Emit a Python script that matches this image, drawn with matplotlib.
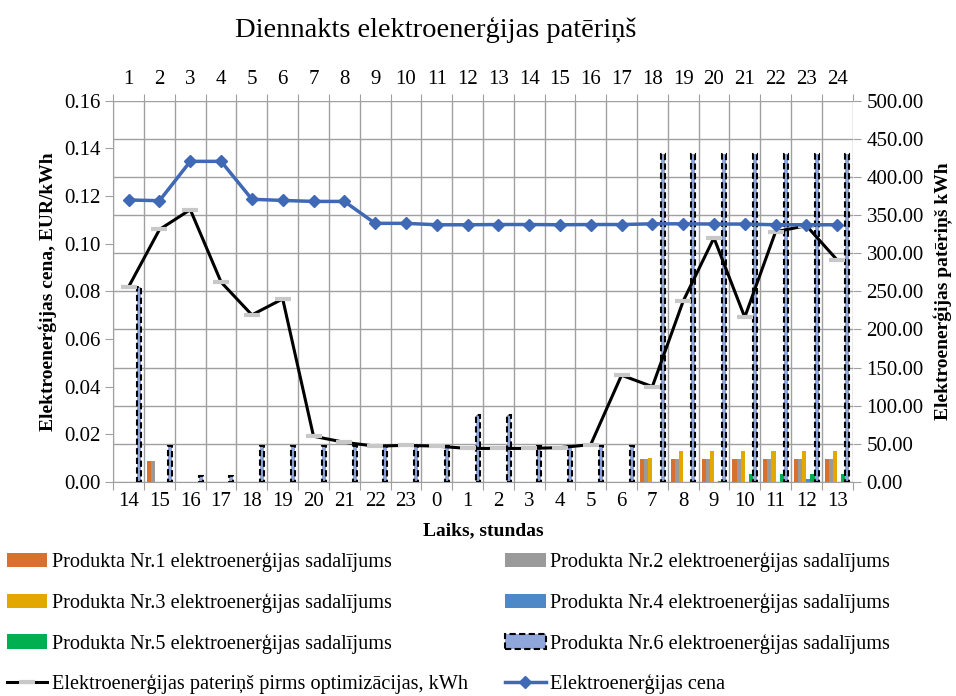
import numpy as np
import matplotlib
matplotlib.use("Agg")
import matplotlib.pyplot as plt
from matplotlib.patches import Patch
from matplotlib.lines import Line2D

plt.rcParams['font.family'] = ['Liberation Serif', 'DejaVu Serif']

# dati
hours = [14, 15, 16, 17, 18, 19, 20, 21, 22, 23, 0, 1, 2, 3, 4, 5, 6, 7, 8, 9, 10, 11, 12, 13]
top_labels = list(range(1, 25))

price = [0.1183, 0.1180, 0.1345, 0.1345, 0.1186, 0.1181, 0.1177, 0.1177,
         0.1085, 0.1085, 0.1079, 0.1079, 0.1080, 0.1080, 0.1079, 0.1080,
         0.1080, 0.1083, 0.1083, 0.1082, 0.1082, 0.1079, 0.1079, 0.1079]

consumption = [256, 331, 357, 262, 219, 240, 60, 52, 47, 48, 47, 44,
               44, 44, 45, 49, 140, 125, 237, 320, 216, 328, 336, 291]

p1 = [0, 28, 0, 0, 0, 0, 0, 0, 0, 0, 0, 0, 0, 0, 0, 0, 0, 30.5, 30.5, 30.5, 30.5, 30.5, 30.5, 30.5]
p2 = [0, 28, 0, 0, 0, 0, 0, 0, 0, 0, 0, 0, 0, 0, 0, 0, 0, 30.5, 30.5, 30.5, 30.5, 30.5, 30.5, 30.5]
p3 = [0, 0, 0, 0, 0, 0, 0, 0, 0, 0, 0, 0, 0, 0, 0, 0, 0, 31.5, 40, 40, 40, 40, 40, 40]
p4 = [0, 0, 0, 0, 0, 0, 0, 0, 0, 0, 0, 0, 0, 0, 0, 0, 0, 0, 0, 0, 0, 0, 4, 0]
p5 = [0, 0, 0, 0, 0, 0, 0, 0, 0, 0, 0, 0, 0, 0, 0, 0, 0, 0, 0, 1.5, 11, 11, 11, 11]
p6 = [256, 47.5, 7.5, 7.5, 47, 47, 47, 47, 47, 47, 47, 88,
      88, 47, 47, 47, 47, 430, 430, 430, 430, 430, 430, 430]

products = [p1, p2, p3, p4, p5, p6]
prod_colors = ['#D9702E', '#9A9A9A', '#E3A800', '#4F88C6', '#00B050', '#8FA6DB']
prod_names = ['Produkta Nr.%d elektroenerģijas sadalījums' % i for i in range(1, 7)]

fig = plt.figure(figsize=(9.56, 6.96), dpi=100)
ax = fig.add_axes([0.1185, 0.3075, 0.7733, 0.548])   # kWh ass (labā puse)
axp = ax.twinx()                                      # cenas ass (kreisā puse)

x = np.arange(len(hours))
bw = 0.8 / 6
dash = (0, (3, 1.6))
for k, (vals, col) in enumerate(zip(products, prod_colors)):
    xs = x - 0.4 + bw * (k + 0.5)
    if k == 5:
        ax.bar(xs, vals, bw, color=col, edgecolor='black', linestyle=dash,
               linewidth=1.5, zorder=3)
    else:
        ax.bar(xs, vals, bw, color=col, linewidth=0, zorder=3)

ax.plot(x, consumption, color='black', lw=2.2, marker='_', ms=12, mew=3,
        mec='#C8C8C8', zorder=4)
axp.plot(x, price, color='#3F68B5', lw=2.5, marker='D', ms=6.5, zorder=5)

# asis
ax.set_xlim(-0.5, 23.5)
ax.set_ylim(0, 500)
axp.set_ylim(0, 0.16)
ax.yaxis.tick_right()
ax.yaxis.set_label_position('right')
axp.yaxis.tick_left()
axp.yaxis.set_label_position('left')

ax.set_yticks(np.arange(0, 501, 50))
ax.set_yticklabels(['%.2f' % v for v in np.arange(0, 501, 50)])
axp.set_yticks(np.arange(0, 0.161, 0.02))
axp.set_yticklabels(['%.2f' % v for v in np.arange(0, 0.161, 0.02)])

ax.set_xticks(np.arange(-0.5, 24, 1))
ax.set_xticklabels([])
ax.set_xticks(x, minor=True)
ax.set_xticklabels([str(h) for h in hours], minor=True)
ax.tick_params(axis='x', which='minor', length=0, pad=7, labelsize=15)
ax.tick_params(axis='x', which='major', length=6, color='#A0A0A0')
ax.tick_params(axis='y', length=6, color='#A0A0A0', labelsize=15, pad=4)
axp.tick_params(axis='y', length=6, color='#A0A0A0', labelsize=15, pad=3)

top = ax.secondary_xaxis('top')
top.set_xticks(np.arange(-0.5, 24, 1))
top.set_xticklabels([])
top.set_xticks(x, minor=True)
top.set_xticklabels([str(t) for t in top_labels], minor=True)
top.tick_params(axis='x', which='minor', length=0, pad=8, labelsize=15)
top.tick_params(axis='x', which='major', length=5, color='#A0A0A0')
top.spines['top'].set_visible(False)

ax.grid(True, which='major', color='#A0A0A0', lw=1)
ax.set_axisbelow(True)
for a in (ax, axp):
    for s in a.spines.values():
        s.set_visible(False)
axp.spines['left'].set_visible(True)
axp.spines['left'].set_color('#A0A0A0')
ax.spines['bottom'].set_visible(True)
ax.spines['bottom'].set_color('#A0A0A0')

axp.set_ylabel('Elektroenerģijas cena, EUR/kWh', fontsize=14, fontweight='bold', labelpad=5)
ax.set_ylabel('Elektroenerģijas patēriņš kWh', fontsize=14, fontweight='bold', labelpad=7)
ax.set_xlabel('Laiks, stundas', fontsize=14, fontweight='bold', labelpad=8)

fig.text(436 / 956, 1 - 30 / 696, 'Diennakts elektroenerģijas patēriņš', fontsize=20.5,
         ha='center', va='center')

# leģenda
h = [Patch(facecolor=c, edgecolor='none') for c in prod_colors[:5]]
h.append(Patch(facecolor=prod_colors[5], edgecolor='black', linestyle=dash, linewidth=1.5))
h_cons = Line2D([], [], color='black', lw=2.2, marker='_', ms=12, mew=3, mec='#C8C8C8')
h_price = Line2D([], [], color='#3F68B5', lw=2.5, marker='D', ms=6)
names = prod_names + ['Elektroenerģijas pateriņš pirms optimizācijas, kWh', 'Elektroenerģijas cena']
order = [0, 2, 4, 6, 1, 3, 5, 7]
handles = h + [h_cons, h_price]
fig.legend([handles[i] for i in order], [names[i] for i in order], ncol=2,
           loc='upper left', bbox_to_anchor=(0.003, 0.212), frameon=False, fontsize=14.6,
           handlelength=2.0, handletextpad=0.2, columnspacing=1.85, labelspacing=1.03,
           borderaxespad=0, borderpad=0.2)

fig.savefig('out.png', dpi=100)
